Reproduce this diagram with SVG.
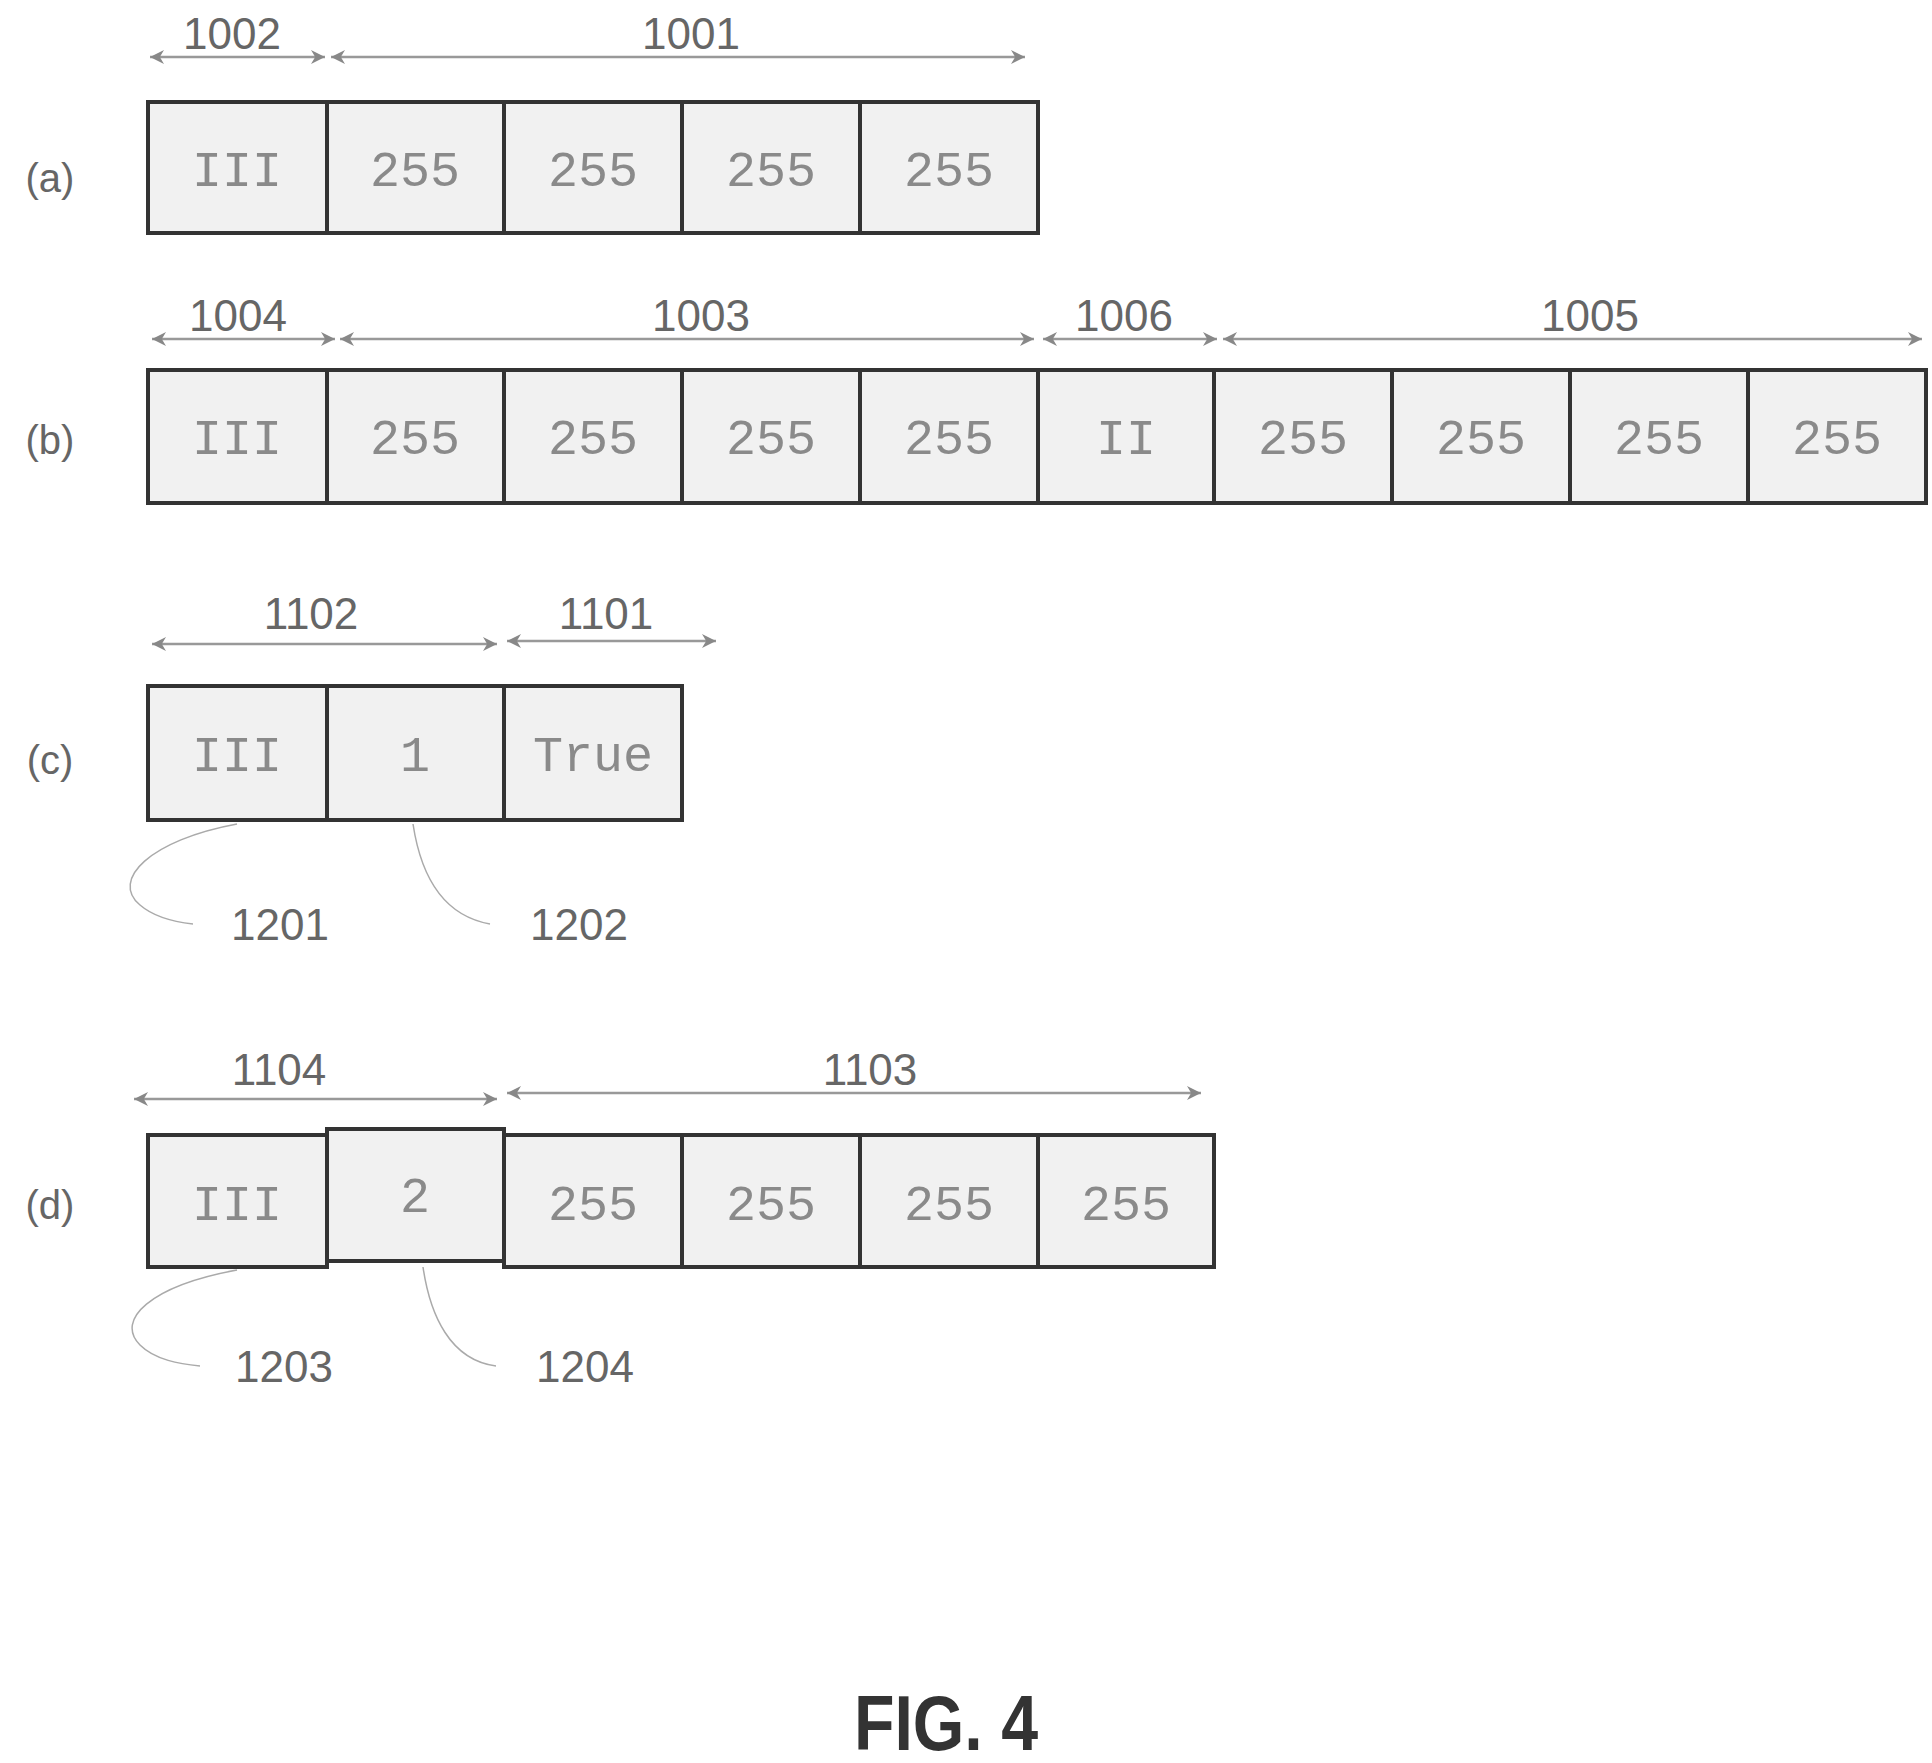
<svg xmlns="http://www.w3.org/2000/svg" width="1932" height="1763" viewBox="0 0 1932 1763">
<style>
.c{fill:#f1f1f1;stroke:#333;stroke-width:4}
.v{font-family:"Liberation Mono",monospace;font-size:50px;fill:#8a8a8a;text-anchor:middle;dominant-baseline:central}
.n{font-family:"Liberation Sans",sans-serif;font-size:44px;fill:#666;text-anchor:middle}
.r{font-family:"Liberation Sans",sans-serif;font-size:40px;fill:#666;text-anchor:middle;dominant-baseline:central}
.a{stroke:#999;stroke-width:2.5;fill:none;marker-start:url(#h);marker-end:url(#h)}
.l{stroke:#aaa;stroke-width:1.5;fill:none}
</style>
<defs><marker id="h" viewBox="0 0 10 10" refX="10" refY="5" markerWidth="16" markerHeight="14" orient="auto-start-reverse" markerUnits="userSpaceOnUse"><path d="M0,0L10,5L0,10L3,5z" fill="#888"/></marker></defs>
<rect width="1932" height="1763" fill="#fff"/>
<text class="r" x="50" y="178">(a)</text>
<text class="r" x="50" y="440">(b)</text>
<text class="r" x="50" y="760">(c)</text>
<text class="r" x="50" y="1205">(d)</text>
<g id="rowa">
<rect class="c" x="148" y="102" width="179" height="131"/><text class="v" x="237" y="172">III</text>
<rect class="c" x="327" y="102" width="177" height="131"/><text class="v" x="415" y="172">255</text>
<rect class="c" x="504" y="102" width="178" height="131"/><text class="v" x="593" y="172">255</text>
<rect class="c" x="682" y="102" width="178" height="131"/><text class="v" x="771" y="172">255</text>
<rect class="c" x="860" y="102" width="178" height="131"/><text class="v" x="949" y="172">255</text>
</g>
<g id="rowb">
<rect class="c" x="148" y="370" width="179" height="133"/><text class="v" x="237" y="440">III</text>
<rect class="c" x="327" y="370" width="177" height="133"/><text class="v" x="415" y="440">255</text>
<rect class="c" x="504" y="370" width="178" height="133"/><text class="v" x="593" y="440">255</text>
<rect class="c" x="682" y="370" width="178" height="133"/><text class="v" x="771" y="440">255</text>
<rect class="c" x="860" y="370" width="178" height="133"/><text class="v" x="949" y="440">255</text>
<rect class="c" x="1038" y="370" width="176" height="133"/><text class="v" x="1126" y="440">II</text>
<rect class="c" x="1214" y="370" width="178" height="133"/><text class="v" x="1303" y="440">255</text>
<rect class="c" x="1392" y="370" width="178" height="133"/><text class="v" x="1481" y="440">255</text>
<rect class="c" x="1570" y="370" width="178" height="133"/><text class="v" x="1659" y="440">255</text>
<rect class="c" x="1748" y="370" width="178" height="133"/><text class="v" x="1837" y="440">255</text>
</g>
<g id="rowc">
<rect class="c" x="148" y="686" width="179" height="134"/><text class="v" x="237" y="757">III</text>
<rect class="c" x="327" y="686" width="177" height="134"/><text class="v" x="415" y="757">1</text>
<rect class="c" x="504" y="686" width="178" height="134"/><text class="v" x="593" y="757">True</text>
</g>
<g id="rowd">
<rect class="c" x="148" y="1135" width="179" height="132"/><text class="v" x="237" y="1206">III</text>
<rect class="c" x="327" y="1129" width="177" height="132"/><text class="v" x="415" y="1198">2</text>
<rect class="c" x="504" y="1135" width="178" height="132"/><text class="v" x="593" y="1206">255</text>
<rect class="c" x="682" y="1135" width="178" height="132"/><text class="v" x="771" y="1206">255</text>
<rect class="c" x="860" y="1135" width="178" height="132"/><text class="v" x="949" y="1206">255</text>
<rect class="c" x="1038" y="1135" width="176" height="132"/><text class="v" x="1126" y="1206">255</text>
</g>
<g id="connectors">
<line class="a" x1="150" y1="57" x2="325" y2="57"/>
<line class="a" x1="331" y1="57" x2="1025" y2="57"/>
<line class="a" x1="152" y1="339" x2="335" y2="339"/>
<line class="a" x1="340" y1="339" x2="1034" y2="339"/>
<line class="a" x1="1043" y1="339" x2="1217" y2="339"/>
<line class="a" x1="1223" y1="339" x2="1922" y2="339"/>
<line class="a" x1="152" y1="644" x2="497" y2="644"/>
<line class="a" x1="507" y1="641" x2="716" y2="641"/>
<line class="a" x1="134" y1="1099" x2="497" y2="1099"/>
<line class="a" x1="507" y1="1093" x2="1201" y2="1093"/>
<path class="l" d="M237,824 C150,840 110,880 140,905 C155,918 175,922 193,924"/>
<path class="l" d="M413,824 C420,870 440,915 490,924"/>
<path class="l" d="M237,1270 C150,1286 115,1320 140,1345 C155,1360 180,1364 200,1366"/>
<path class="l" d="M423,1267 C430,1315 450,1360 496,1366"/>
</g>
<g id="labels">
<text class="n" x="232" y="49">1002</text>
<text class="n" x="691" y="49">1001</text>
<text class="n" x="238" y="331">1004</text>
<text class="n" x="701" y="331">1003</text>
<text class="n" x="1124" y="331">1006</text>
<text class="n" x="1590" y="331">1005</text>
<text class="n" x="311" y="629">1102</text>
<text class="n" x="606" y="629">1101</text>
<text class="n" x="279" y="1085">1104</text>
<text class="n" x="870" y="1085">1103</text>
<text class="n" x="280" y="940">1201</text>
<text class="n" x="579" y="940">1202</text>
<text class="n" x="284" y="1382">1203</text>
<text class="n" x="585" y="1382">1204</text>
</g>
<text x="946" y="1750" font-family="'Liberation Sans',sans-serif" font-weight="bold" font-size="78" fill="#333" text-anchor="middle" transform="translate(946 0) scale(0.85 1) translate(-946 0)">FIG. 4</text>
</svg>
